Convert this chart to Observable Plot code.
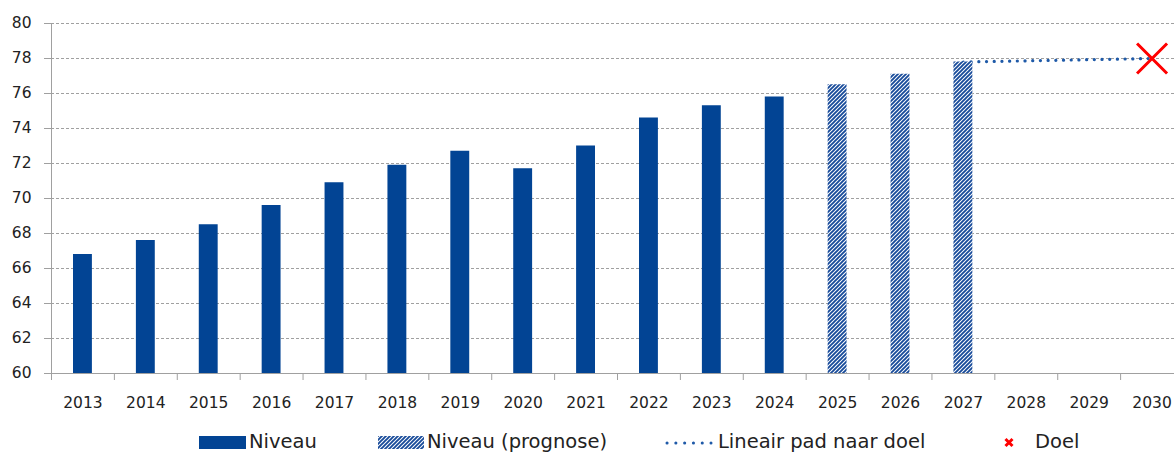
<!DOCTYPE html>
<html>
<head>
<meta charset="utf-8">
<script src="https://cdn.jsdelivr.net/npm/d3@7"></script>
<script src="https://cdn.jsdelivr.net/npm/@observablehq/plot@0.6"></script>
<style>
  html, body { margin: 0; padding: 0; background: #fff; overflow: hidden; }
  #wrap { position: relative; width: 1174px; height: 452px; overflow: hidden; }
  #chart svg { overflow: visible; }
  .legend { position: absolute; left: 0; top: 0; width: 1174px; height: 452px; pointer-events: none;
            font-family: "DejaVu Sans", sans-serif; font-size: 19.5px; color: #222; }
  .legend .item { position: absolute; top: 432px; display: flex; align-items: center; white-space: nowrap; line-height: 20px; }
  .legend svg { display: block; }
</style>
</head>
<body>
<svg width="0" height="0" style="position:absolute">
  <defs>
    <pattern id="hatch" patternUnits="userSpaceOnUse" width="4" height="4">
      <rect width="4" height="4" fill="#ffffff"></rect>
      <path d="M-1,1 l2,-2 M0,4 l4,-4 M3,5 l2,-2" stroke="#184b9a" stroke-width="1.9"></path>
    </pattern>
  </defs>
</svg>
<div id="wrap">
  <div id="chart"></div>
  <div class="legend" id="legend"></div>
</div>
<script>
// ---- data ----
const years = [2013, 2014, 2015, 2016, 2017, 2018, 2019, 2020, 2021, 2022, 2023, 2024];
const niveau = [66.8, 67.6, 68.5, 69.6, 70.9, 71.9, 72.7, 71.7, 73.0, 74.6, 75.3, 75.8];
const prognoseYears = [2025, 2026, 2027];
const prognose = [76.5, 77.1, 77.8];
const padYears = [2027, 2030];
const padValues = [77.8, 78.0];
const doelYear = [2030];
const doelValue = [78.0];
const allYears = [2013, 2014, 2015, 2016, 2017, 2018, 2019, 2020, 2021, 2022, 2023, 2024, 2025, 2026, 2027, 2028, 2029, 2030];
const yTicks = [60, 62, 64, 66, 68, 70, 72, 74, 76, 78, 80];
const legendLabels = ["Niveau", "Niveau (prognose)", "Lineair pad naar doel", "Doel"];

const barBlue = "#024494";
const dotBlue = "#1f5aa8";
const gridGray = "#a0a0a0";

const niveauData = years.map((y, i) => ({year: y, value: niveau[i]}));
const prognoseData = prognoseYears.map((y, i) => ({year: y, value: prognose[i]}));
const padData = padYears.map((y, i) => ({year: y, value: padValues[i]}));
const doelData = doelYear.map((y, i) => ({year: y, value: doelValue[i]}));
const boundaries = [allYears[0] - 0.5, ...allYears.map(y => y + 0.5)];

const W = 1174, H = 425;
const inset = 22;

const chart = Plot.plot({
  width: W,
  height: H,
  marginTop: 23,
  marginBottom: 52,
  marginLeft: 51,
  marginRight: -9,
  style: {fontFamily: "DejaVu Sans, sans-serif", fontSize: "15.5px", color: "#222", background: "#fff", overflow: "visible"},
  x: {type: "linear", domain: [allYears[0] - 0.5, allYears[allYears.length - 1] + 0.5], axis: null},
  y: {domain: [60, 80], axis: null},
  marks: [
    Plot.gridY(yTicks.slice(1), {stroke: gridGray, strokeOpacity: 1, strokeDasharray: "3,2", strokeWidth: 1}),
    Plot.axisY({ticks: yTicks, tickSize: 7, tickPadding: 13, stroke: gridGray, strokeOpacity: 1,
                tickFormat: d => String(d), fill: "#222", fontSize: 15.5, label: null}),
    Plot.line(padData, {x: "year", y: "value", stroke: dotBlue, strokeWidth: 3.2,
                        strokeLinecap: "round", strokeDasharray: "0.1 7.6"}),
    Plot.rectY(niveauData, {x1: d => d.year - 0.5, x2: d => d.year + 0.5, y1: 60, y2: "value",
                            insetLeft: inset, insetRight: inset, fill: barBlue}),
    Plot.rectY(prognoseData, {x1: d => d.year - 0.5, x2: d => d.year + 0.5, y1: 60, y2: "value",
                              insetLeft: inset, insetRight: inset, fill: "url(#hatch)"}),
    Plot.ruleX([allYears[0] - 0.5], {y1: 60, y2: 80, stroke: gridGray, strokeWidth: 1}),
    Plot.ruleY([60], {stroke: gridGray, strokeWidth: 1}),
    Plot.axisX({ticks: boundaries, tickSize: 7, tickFormat: () => "", stroke: gridGray, strokeOpacity: 1, label: null}),
    Plot.axisX({ticks: allYears, tickSize: 0, tickPadding: 23, tickFormat: d => String(d),
                fill: "#222", fontSize: 15.5, label: null}),
    Plot.dot(doelData, {x: "year", y: "value", symbol: "times", r: 13.7, stroke: "#ff0000", strokeWidth: 3})
  ]
});
document.getElementById("chart").appendChild(chart);

// ---- legend (HTML, below the svg area) ----
const legend = document.getElementById("legend");
function addItem(left, swatchSvg, label, gap) {
  const div = document.createElement("div");
  div.className = "item";
  div.style.left = left + "px";
  div.innerHTML = swatchSvg + `<span style="margin-left:${gap}px">${label}</span>`;
  legend.appendChild(div);
}
addItem(199, `<svg width="47" height="13"><rect width="47" height="13" fill="${barBlue}"/></svg>`, legendLabels[0], 3);
addItem(378, `<svg width="46" height="13"><rect width="46" height="13" fill="url(#hatch)"/></svg>`, legendLabels[1], 3);
addItem(665, `<svg width="48" height="13"><line x1="2" y1="7" x2="46" y2="7" stroke="${dotBlue}" stroke-width="3" stroke-linecap="round" stroke-dasharray="0.1 8.7"/></svg>`, legendLabels[2], 5);
addItem(1004, `<svg width="10" height="13"><path d="M1.5,3 L8.5,10 M8.5,3 L1.5,10" stroke="#ff0000" stroke-width="3"/></svg>`, legendLabels[3], 21);
</script>
</body>
</html>
